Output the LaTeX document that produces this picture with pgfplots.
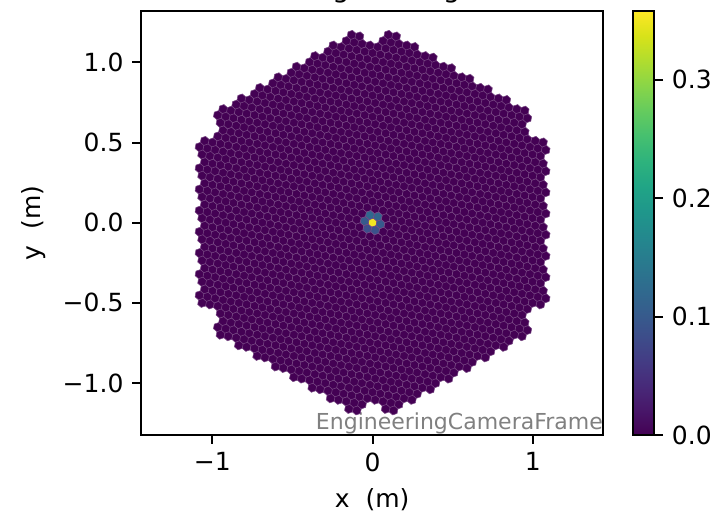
\documentclass[border=0pt]{standalone}
\usepackage{fontspec}
\setmainfont{DejaVu Sans}
\usepackage{pgfplots}
\pgfplotsset{compat=1.18}

\definecolor{pixfill}{rgb}{0.267004,0.004874,0.329415}
\colorlet{pixedge}{pixfill!72!white}

% one hexagonal pixel (pitch 0.05 m = 3.205pt, circumradius 1.85pt), centre given in polar form
\newcommand\hexsub[2]{%
 \pgfpathmoveto{\pgfpointadd{\pgfpointpolar{#1}{#2}}{\pgfpointpolar{19.1}{1.85pt}}}%
 \pgfpathlineto{\pgfpointadd{\pgfpointpolar{#1}{#2}}{\pgfpointpolar{79.1}{1.85pt}}}%
 \pgfpathlineto{\pgfpointadd{\pgfpointpolar{#1}{#2}}{\pgfpointpolar{139.1}{1.85pt}}}%
 \pgfpathlineto{\pgfpointadd{\pgfpointpolar{#1}{#2}}{\pgfpointpolar{199.1}{1.85pt}}}%
 \pgfpathlineto{\pgfpointadd{\pgfpointpolar{#1}{#2}}{\pgfpointpolar{259.1}{1.85pt}}}%
 \pgfpathlineto{\pgfpointadd{\pgfpointpolar{#1}{#2}}{\pgfpointpolar{319.1}{1.85pt}}}%
 \pgfpathclose}
% a 7-pixel module
\pgfdeclareplotmark{flower}{%
 \hexsub{0}{0pt}\hexsub{-10.9}{3.205pt}\hexsub{49.1}{3.205pt}\hexsub{109.1}{3.205pt}%
 \hexsub{169.1}{3.205pt}\hexsub{229.1}{3.205pt}\hexsub{289.1}{3.205pt}%
 \pgfusepathqfillstroke}
\pgfdeclareplotmark{hexpix}{\hexsub{0}{0pt}\pgfusepathqfillstroke}

\begin{document}
\begin{tikzpicture}
\begin{axis}[
 at={(0,0)}, anchor=south west,
 x=64.1pt, y=64.1pt,
 xmin=-1.445, xmax=1.44, ymin=-1.325, ymax=1.32,
 axis line style={line width=0.8pt},
 tick align=outside, tick pos=left, major tick length=3.5pt,
 every tick/.style={black, line width=0.8pt},
 xtick={-1,0,1}, xticklabels={−1,0,1},
 ytick={-1,-0.5,0,0.5,1}, yticklabels={−1.0,−0.5,0.0,0.5,1.0},
 tick label style={font=\fontsize{10}{12}\selectfont},
 xlabel={x\ \ (m)}, ylabel={y\ \ (m)},
 label style={font=\fontsize{10}{12}\selectfont},
 colormap/viridis,
 point meta min=0, point meta max=0.358,
 colorbar,
 colorbar style={
   at={(parent axis.north east)}, anchor=north west, xshift=3.5pt,
   width=8.4pt, height=169.54pt,
   ymin=0, ymax=0.358,
   ytick={0,0.1,0.2,0.3}, yticklabels={0.0,0.1,0.2,0.3},
   ytick pos=right, tick align=outside, major tick length=3.5pt,
   every tick/.style={black, line width=0.8pt},
   axis line style={line width=0.8pt},
   tick label style={font=\fontsize{10}{12}\selectfont},
 },
]
% module centres (7-pixel modules), centre module drawn separately below
\addplot[only marks, mark=flower, mark options={fill=pixfill, draw=pixedge, line width=0.22pt}] coordinates {
(-1.0311,-0.4630)(-1.0311,-0.3307)(-1.0311,-0.1984)(-1.0311,-0.0661)(-1.0311,0.0661)(-1.0311,0.1984)(-1.0311,0.3307)(-1.0311,0.4630)
(-0.9165,-0.6614)(-0.9165,-0.5292)(-0.9165,-0.3969)(-0.9165,-0.2646)(-0.9165,-0.1323)(-0.9165,0)(-0.9165,0.1323)(-0.9165,0.2646)(-0.9165,0.3969)(-0.9165,0.5292)(-0.9165,0.6614)
(-0.8019,-0.7276)(-0.8019,-0.5953)(-0.8019,-0.4630)(-0.8019,-0.3307)(-0.8019,-0.1984)(-0.8019,-0.0661)(-0.8019,0.0661)(-0.8019,0.1984)(-0.8019,0.3307)(-0.8019,0.4630)(-0.8019,0.5953)(-0.8019,0.7276)
(-0.6874,-0.7937)(-0.6874,-0.6614)(-0.6874,-0.5292)(-0.6874,-0.3969)(-0.6874,-0.2646)(-0.6874,-0.1323)(-0.6874,0)(-0.6874,0.1323)(-0.6874,0.2646)(-0.6874,0.3969)(-0.6874,0.5292)(-0.6874,0.6614)(-0.6874,0.7937)
(-0.5728,-0.8599)(-0.5728,-0.7276)(-0.5728,-0.5953)(-0.5728,-0.4630)(-0.5728,-0.3307)(-0.5728,-0.1984)(-0.5728,-0.0661)(-0.5728,0.0661)(-0.5728,0.1984)(-0.5728,0.3307)(-0.5728,0.4630)(-0.5728,0.5953)(-0.5728,0.7276)(-0.5728,0.8599)
(-0.4583,-0.9260)(-0.4583,-0.7937)(-0.4583,-0.6614)(-0.4583,-0.5292)(-0.4583,-0.3969)(-0.4583,-0.2646)(-0.4583,-0.1323)(-0.4583,0)(-0.4583,0.1323)(-0.4583,0.2646)(-0.4583,0.3969)(-0.4583,0.5292)(-0.4583,0.6614)(-0.4583,0.7937)(-0.4583,0.9260)
(-0.3437,-0.9922)(-0.3437,-0.8599)(-0.3437,-0.7276)(-0.3437,-0.5953)(-0.3437,-0.4630)(-0.3437,-0.3307)(-0.3437,-0.1984)(-0.3437,-0.0661)(-0.3437,0.0661)(-0.3437,0.1984)(-0.3437,0.3307)(-0.3437,0.4630)(-0.3437,0.5953)(-0.3437,0.7276)(-0.3437,0.8599)(-0.3437,0.9922)
(-0.2291,-1.0583)(-0.2291,-0.9260)(-0.2291,-0.7937)(-0.2291,-0.6614)(-0.2291,-0.5292)(-0.2291,-0.3969)(-0.2291,-0.2646)(-0.2291,-0.1323)(-0.2291,0)(-0.2291,0.1323)(-0.2291,0.2646)(-0.2291,0.3969)(-0.2291,0.5292)(-0.2291,0.6614)(-0.2291,0.7937)(-0.2291,0.9260)(-0.2291,1.0583)
(-0.1146,-1.1245)(-0.1146,-0.9922)(-0.1146,-0.8599)(-0.1146,-0.7276)(-0.1146,-0.5953)(-0.1146,-0.4630)(-0.1146,-0.3307)(-0.1146,-0.1984)(-0.1146,-0.0661)(-0.1146,0.0661)(-0.1146,0.1984)(-0.1146,0.3307)(-0.1146,0.4630)(-0.1146,0.5953)(-0.1146,0.7276)(-0.1146,0.8599)(-0.1146,0.9922)(-0.1146,1.1245)
(0,-1.0583)(0,-0.9260)(0,-0.7937)(0,-0.6614)(0,-0.5292)(0,-0.3969)(0,-0.2646)(0,-0.1323)(0,0.1323)(0,0.2646)(0,0.3969)(0,0.5292)(0,0.6614)(0,0.7937)(0,0.9260)(0,1.0583)
(0.1146,-1.1245)(0.1146,-0.9922)(0.1146,-0.8599)(0.1146,-0.7276)(0.1146,-0.5953)(0.1146,-0.4630)(0.1146,-0.3307)(0.1146,-0.1984)(0.1146,-0.0661)(0.1146,0.0661)(0.1146,0.1984)(0.1146,0.3307)(0.1146,0.4630)(0.1146,0.5953)(0.1146,0.7276)(0.1146,0.8599)(0.1146,0.9922)(0.1146,1.1245)
(0.2291,-1.0583)(0.2291,-0.9260)(0.2291,-0.7937)(0.2291,-0.6614)(0.2291,-0.5292)(0.2291,-0.3969)(0.2291,-0.2646)(0.2291,-0.1323)(0.2291,0)(0.2291,0.1323)(0.2291,0.2646)(0.2291,0.3969)(0.2291,0.5292)(0.2291,0.6614)(0.2291,0.7937)(0.2291,0.9260)(0.2291,1.0583)
(0.3437,-0.9922)(0.3437,-0.8599)(0.3437,-0.7276)(0.3437,-0.5953)(0.3437,-0.4630)(0.3437,-0.3307)(0.3437,-0.1984)(0.3437,-0.0661)(0.3437,0.0661)(0.3437,0.1984)(0.3437,0.3307)(0.3437,0.4630)(0.3437,0.5953)(0.3437,0.7276)(0.3437,0.8599)(0.3437,0.9922)
(0.4583,-0.9260)(0.4583,-0.7937)(0.4583,-0.6614)(0.4583,-0.5292)(0.4583,-0.3969)(0.4583,-0.2646)(0.4583,-0.1323)(0.4583,0)(0.4583,0.1323)(0.4583,0.2646)(0.4583,0.3969)(0.4583,0.5292)(0.4583,0.6614)(0.4583,0.7937)(0.4583,0.9260)
(0.5728,-0.8599)(0.5728,-0.7276)(0.5728,-0.5953)(0.5728,-0.4630)(0.5728,-0.3307)(0.5728,-0.1984)(0.5728,-0.0661)(0.5728,0.0661)(0.5728,0.1984)(0.5728,0.3307)(0.5728,0.4630)(0.5728,0.5953)(0.5728,0.7276)(0.5728,0.8599)
(0.6874,-0.7937)(0.6874,-0.6614)(0.6874,-0.5292)(0.6874,-0.3969)(0.6874,-0.2646)(0.6874,-0.1323)(0.6874,0)(0.6874,0.1323)(0.6874,0.2646)(0.6874,0.3969)(0.6874,0.5292)(0.6874,0.6614)(0.6874,0.7937)
(0.8019,-0.7276)(0.8019,-0.5953)(0.8019,-0.4630)(0.8019,-0.3307)(0.8019,-0.1984)(0.8019,-0.0661)(0.8019,0.0661)(0.8019,0.1984)(0.8019,0.3307)(0.8019,0.4630)(0.8019,0.5953)(0.8019,0.7276)
(0.9165,-0.6614)(0.9165,-0.5292)(0.9165,-0.3969)(0.9165,-0.2646)(0.9165,-0.1323)(0.9165,0)(0.9165,0.1323)(0.9165,0.2646)(0.9165,0.3969)(0.9165,0.5292)(0.9165,0.6614)
(1.0311,-0.4630)(1.0311,-0.3307)(1.0311,-0.1984)(1.0311,-0.0661)(1.0311,0.0661)(1.0311,0.1984)(1.0311,0.3307)(1.0311,0.4630)
};
% central module: individual pixel values
\addplot[scatter, only marks, mark=hexpix, point meta=explicit,
  scatter/use mapped color={draw=pixedge, fill=mapped color, line width=0.22pt}]
  table[meta=c] {
x y c
0 0 0.352
0.049098 -0.009455 0.100
0.032737 0.037793 0.115
-0.016361 0.047248 0.120
-0.049098 0.009455 0.100
-0.032737 -0.037793 0.085
0.016361 -0.047248 0.090
};
\node[anchor=south east, inner sep=0pt, text=gray, font=\fontsize{8.8}{10}\selectfont] at (rel axis cs:1,0) {EngineeringCameraFrame};
\end{axis}
\node[anchor=base, font=\fontsize{10.8}{13}\selectfont] at (95.3pt,175pt) {Engineering};
\pgfresetboundingbox
\useasboundingbox (-56.4pt,-32pt) rectangle (231.2pt,174pt);
\end{tikzpicture}
\end{document}
